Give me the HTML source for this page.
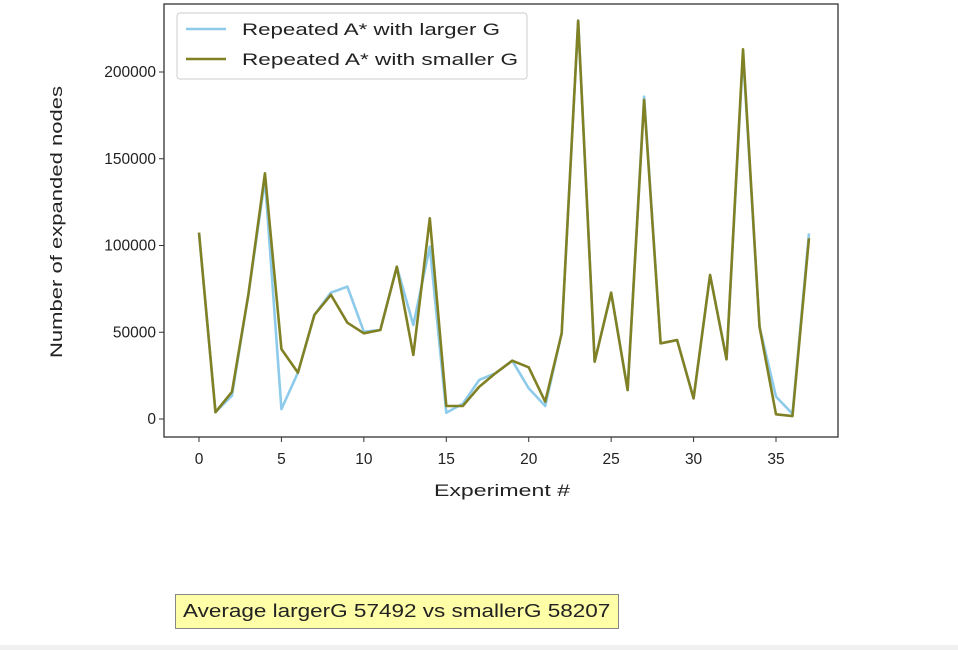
<!DOCTYPE html>
<html><head><meta charset="utf-8"><style>
body{margin:0;width:958px;height:650px;background:#fff;overflow:hidden;font-family:"Liberation Sans","DejaVu Sans",sans-serif}
#note{position:absolute;left:175px;top:594px;width:444px;height:35px;background:#ffffa8;border:1px solid #888;box-sizing:border-box;color:#222;white-space:nowrap}
#note span{position:absolute;left:7px;top:0;font-size:18px;line-height:32px;transform:scaleX(1.25);transform-origin:0 50%}
#bottom{position:absolute;left:0;top:645px;width:958px;height:5px;background:#f0f0f0}
</style></head><body>
<svg id="chart" width="958" height="650" style="position:absolute;left:0;top:0"></svg>
<div id="note"><span>Average largerG 57492 vs smallerG 58207</span></div>
<div id="bottom"></div>
<script>
const experiments=[0,1,2,3,4,5,6,7,8,9,10,11,12,13,14,15,16,17,18,19,20,21,22,23,24,25,26,27,28,29,30,31,32,33,34,35,36,37];
const largerG=[107400,3900,13500,72000,138000,5700,26700,60000,72800,76300,50300,51300,87800,54200,99300,3600,8800,22500,26500,33600,17700,7500,49400,229600,33000,72800,16700,185800,43600,45500,11900,83000,34400,210000,53200,12900,3000,107000];
const smallerG=[107400,3900,15700,72000,141600,40300,26700,60000,71600,55500,49400,51300,87800,36900,115700,7500,7500,18600,26500,33600,29800,10000,49400,229600,33000,72800,16700,183900,43600,45500,11900,83000,34400,213100,53200,2700,1700,104200];
const xTicks=[0,5,10,15,20,25,30,35];
const yTicks=[0,50000,100000,150000,200000];
const NS="http://www.w3.org/2000/svg";
const svg=document.getElementById('chart');
const L=164,R=838,T=4,B=437;
const xs=v=>199+v*(577/35);
const ys=v=>419-v*(86.75/50000);
function el(t,a){const e=document.createElementNS(NS,t);for(const k in a)e.setAttribute(k,a[k]);svg.appendChild(e);return e;}
const frame=el('rect',{x:L,y:T,width:R-L,height:B-T,fill:'none',stroke:'#333','stroke-width':1.3});


xTicks.forEach(t=>{
 const l=el('line',{x1:xs(t),x2:xs(t),y1:B,y2:B+5,stroke:'#333'});
 
 
 const tx=el('text',{x:xs(t),y:B+27,'text-anchor':'middle','font-size':15.5,fill:'#222'});tx.textContent=t;
 
 
});
yTicks.forEach(t=>{
 const l=el('line',{x1:L-5,x2:L,y1:ys(t),y2:ys(t),stroke:'#333'});
 
 
 const tx=el('text',{x:L-8,y:ys(t)+5,'text-anchor':'end','font-size':15.5,fill:'#222'});tx.textContent=t;
 
 
});
const xt=el('text',{x:434,y:496,'font-size':16.5,fill:'#222',textLength:136,lengthAdjust:'spacingAndGlyphs'});xt.textContent='Experiment #';


const yt=el('text',{x:0,y:0,'text-anchor':'middle','font-size':16.5,fill:'#222',textLength:272,lengthAdjust:'spacingAndGlyphs',transform:'translate(62,222) rotate(-90)'});yt.textContent='Number of expanded nodes';


function line(data,color,name){
 const p=el('polyline',{points:data.map((v,i)=>xs(experiments[i])+','+ys(v)).join(' '),fill:'none',stroke:color,'stroke-width':2.6,'stroke-linejoin':'round'});
 
 
}
line(largerG,'#8ecbea','series-larger-g');
line(smallerG,'#808024','series-smaller-g');
const lg=el('rect',{x:177,y:13,width:350,height:66,rx:3,fill:'#fff','fill-opacity':0.9,stroke:'#ccc'});


[['Repeated A* with larger G','#8ecbea',29,258],['Repeated A* with smaller G','#808024',59,276]].forEach(([t,c,y,w])=>{
 const l=el('line',{x1:186,x2:226,y1:y,y2:y,stroke:c,'stroke-width':2.6});
 
 
 const tx=el('text',{x:242,y:y+6,'font-size':16.5,fill:'#222',textLength:w,lengthAdjust:'spacingAndGlyphs'});tx.textContent=t;
 
 
});
</script>
</body></html>
